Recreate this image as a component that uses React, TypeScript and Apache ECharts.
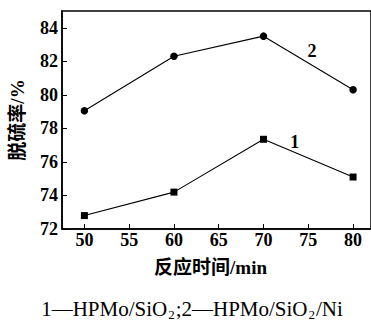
import React, { useEffect, useRef } from "react";
import * as echarts from "echarts";

const times = [50, 60, 70, 80];
const series1 = [72.8, 74.2, 77.35, 75.1];
const series2 = [79.05, 82.3, 83.5, 80.3];
const xTicks = [50, 55, 60, 65, 70, 75, 80];
const yTicks = [72, 74, 76, 78, 80, 82, 84];
const curveLabels = [
  { name: "1", x: 73.5, y: 77.2 },
  { name: "2", x: 75.4, y: 82.6 },
];

const serif = "'Liberation Serif', 'Times New Roman', serif";
const cjk = "'Liberation Serif', 'Noto Sans CJK SC', serif";

export default function App() {
  const ref = useRef<HTMLDivElement>(null);
  useEffect(() => {
    document.body.style.margin = "0";
    const chart = echarts.init(ref.current!, null, { renderer: "svg" });
    chart.setOption({
      animation: false,
      grid: {
        left: 57,
        top: 11,
        right: -2,
        bottom: 91,
        show: true,
        borderColor: "#000",
        borderWidth: 1.5,
      },
      xAxis: {
        type: "value",
        min: 47.5,
        max: 82,
        interval: 5,
        axisLine: { lineStyle: { color: "#000", width: 1.5 } },
        axisTick: {
          inside: true,
          length: 5,
          lineStyle: { color: "#000", width: 1 },
          customValues: xTicks,
        },
        axisLabel: {
          customValues: xTicks,
          color: "#000",
          fontFamily: serif,
          fontWeight: "bold",
          fontSize: 18,
          margin: 2,
        },
        splitLine: { show: false },
        name: "反应时间/min",
        nameLocation: "middle",
        nameGap: 29,
        nameTextStyle: {
          color: "#000",
          fontFamily: cjk,
          fontWeight: "bold",
          fontSize: 19,
          padding: [0, 12, 0, 0],
        },
      },
      yAxis: {
        type: "value",
        min: 72,
        max: 85,
        axisLine: { show: true, lineStyle: { color: "#000", width: 1.5 } },
        axisTick: {
          show: true,
          inside: true,
          length: 5,
          lineStyle: { color: "#000", width: 1 },
          customValues: yTicks,
        },
        axisLabel: {
          customValues: yTicks,
          color: "#000",
          fontFamily: serif,
          fontWeight: "bold",
          fontSize: 18,
          margin: 4,
        },
        splitLine: { show: false },
        name: "脱硫率/%",
        nameLocation: "middle",
        nameGap: 35,
        nameRotate: 90,
        nameTextStyle: {
          color: "#000",
          fontFamily: cjk,
          fontWeight: "bold",
          fontSize: 19,
        },
      },
      series: [
        {
          type: "line",
          data: times.map((t, i) => [t, series1[i]]),
          symbol: "rect",
          symbolSize: 7,
          lineStyle: { color: "#000", width: 1.1 },
          itemStyle: { color: "#000" },
        },
        {
          type: "line",
          data: times.map((t, i) => [t, series2[i]]),
          symbol: "circle",
          symbolSize: 7.5,
          lineStyle: { color: "#000", width: 1.1 },
          itemStyle: { color: "#000" },
        },
        {
          type: "scatter",
          data: curveLabels.map((l) => ({ name: l.name, value: [l.x, l.y] })),
          symbolSize: 0,
          itemStyle: { color: "#000", opacity: 1 },
          silent: true,
          label: {
            show: true,
            position: "inside",
            formatter: (p: any) => p.name,
            color: "#000",
            opacity: 1,
            textBorderWidth: 0,
            fontFamily: serif,
            fontWeight: "bold",
            fontSize: 18,
          },
        },
      ],
      graphic: [
        {
          type: "text",
          x: 192,
          y: 309,
          style: {
            text: "{a|1—HPMo/SiO}{s|2}{a|;2—HPMo/SiO}{s|2}{a|/Ni}",
            align: "center",
            verticalAlign: "middle",
            rich: {
              a: { fontFamily: serif, fontSize: 21, fill: "#000", color: "#000" },
              s: {
                fontFamily: serif,
                fontSize: 13,
                fill: "#000",
                color: "#000",
                padding: [10, 1, 0, 1],
              },
            },
          },
        },
      ],
    });
    return () => chart.dispose();
  }, []);
  return <div ref={ref} style={{ width: 371, height: 320 }} />;
}
